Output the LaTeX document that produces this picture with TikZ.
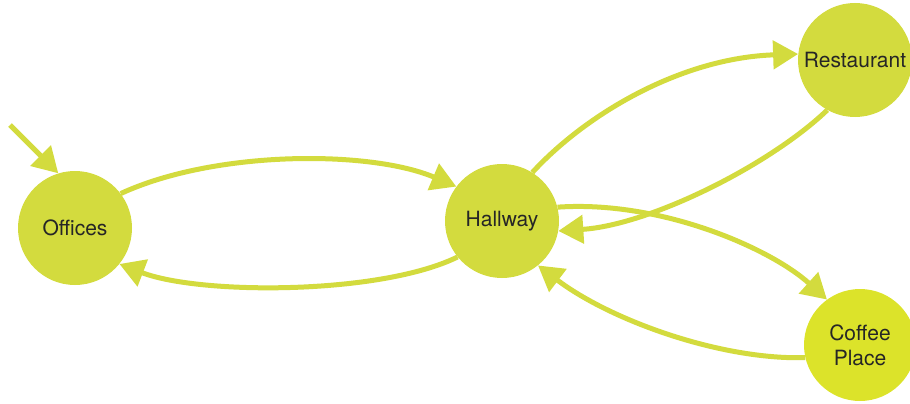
\documentclass[tikz,border=0pt]{standalone}
\usepackage{fontspec}
\setmainfont{TeX Gyre Heros}
\usetikzlibrary{arrows.meta}
\definecolor{lime}{RGB}{211,219,62}
\definecolor{limeb}{RGB}{220,227,42}
\tikzset{
  state/.style={circle, fill=lime, draw=none, minimum size=114pt, inner sep=0pt,
    font=\fontsize{21}{25}\selectfont, text=black!85, align=center},
  link/.style={draw=lime, line width=5pt, -{Triangle[length=25pt,width=28pt]}}
}
\begin{document}
\begin{tikzpicture}[x=1pt,y=-1pt]
\useasboundingbox (0,0) rectangle (910,404);
\node[state] (off) at (75,228) {Offices};
\node[state] (hall) at (502,221) {Hallway};
\node[state] (rest) at (855,60) {Restaurant};
\node[state, fill=limeb, minimum size=112pt] (cof) at (860,345) {Coffee\\Place};
\coordinate (init) at (10,125);
\draw[link] (init) -- (off.107);
\draw[link] (off.37) .. controls (215,150) and (370,150) .. (hall.143);
\draw[link] (hall.219) .. controls (380,295) and (200,295) .. (off.-39);
\draw[link] (hall.58) .. controls (585,115) and (680,58) .. (rest.174);
\draw[link] (rest.241) .. controls (770,165) and (650,225) .. (hall.-10);
\draw[link] (hall.14) .. controls (660,200) and (770,248) .. (cof.126);
\draw[link] (cof.193) .. controls (720,360) and (610,320) .. (hall.-51);
\end{tikzpicture}
\end{document}
